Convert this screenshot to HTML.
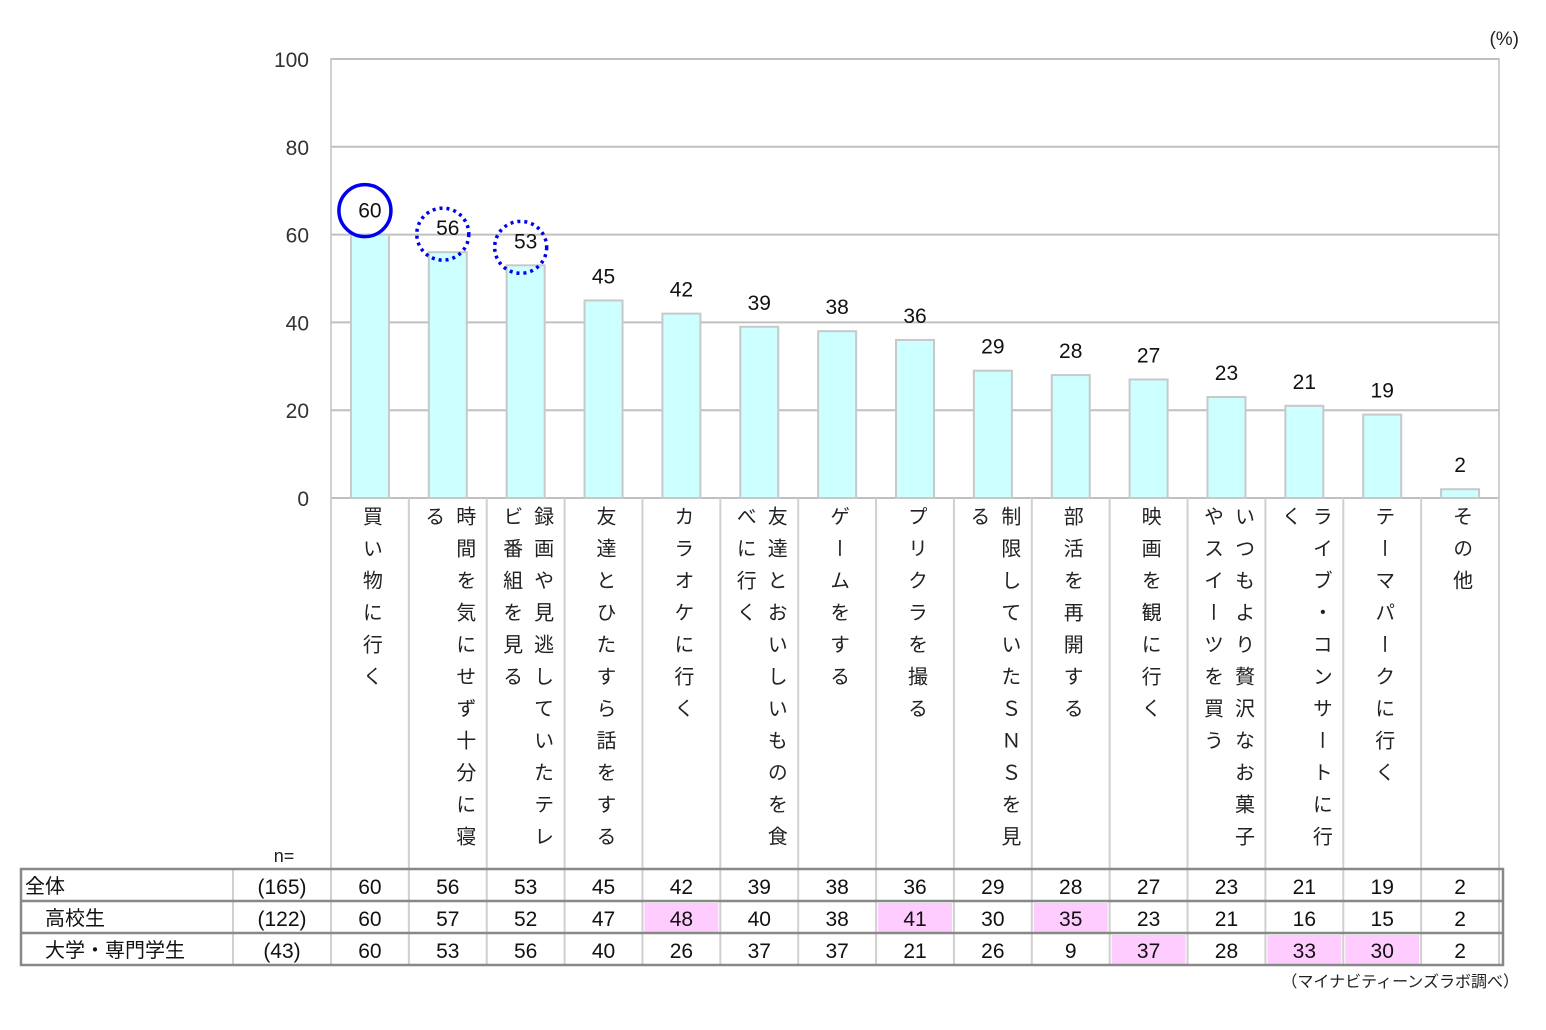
<!DOCTYPE html>
<html><head><meta charset="utf-8">
<style>
body{margin:0;background:#fff;}
#wrap{position:relative;width:1546px;height:1030px;font-family:"Liberation Sans","Noto Sans CJK JP",sans-serif;}
.lab{position:absolute;top:506px;width:78px;height:362px;display:flex;justify-content:center;}
.lab div{writing-mode:vertical-rl;font-size:20px;letter-spacing:12px;line-height:31px;height:356px;color:#222;}
</style></head><body>
<div id="wrap">
<svg id="svg" width="1546" height="1030" style="position:absolute;left:0;top:0"></svg>
</div>
<script>
const categories=["買い物に行く","時間を気にせず十分に寝る","録画や見逃していたテレビ番組を見る","友達とひたすら話をする","カラオケに行く","友達とおいしいものを食べに行く","ゲームをする","プリクラを撮る","制限していたＳＮＳを見る","部活を再開する","映画を観に行く","いつもより贅沢なお菓子やスイーツを買う","ライブ・コンサートに行く","テーマパークに行く","その他"];
const totalVals=[60,56,53,45,42,39,38,36,29,28,27,23,21,19,2];
const highVals=[60,57,52,47,48,40,38,41,30,35,23,21,16,15,2];
const univVals=[60,53,56,40,26,37,37,21,26,9,37,28,33,30,2];
const highHL=[false,false,false,false,true,false,false,true,false,true,false,false,false,false,false];
const univHL=[false,false,false,false,false,false,false,false,false,false,true,false,true,true,false];
const rowNames=["全体","高校生","大学・専門学生"];
const rowN=["(165)","(122)","(43)"];
const yTicks=[0,20,40,60,80,100];

const NS="http://www.w3.org/2000/svg";
const svg=document.getElementById('svg');
const wrap=document.getElementById('wrap');
const X0=331,X1=1499,Y0=498,Y100=59;
const cw=(X1-X0)/categories.length;
const y=v=>Y0-(Y0-Y100)*v/100;
const cx=i=>X0+cw*(i+0.5);
function mk(t,a,txt){const e=document.createElementNS(NS,t);for(const k in a)e.setAttribute(k,a[k]);if(txt!==undefined)e.textContent=txt;svg.appendChild(e);return e;}
let e=mk('rect',{x:X0,y:Y100,width:X1-X0,height:Y0-Y100,fill:'none',stroke:'#d0d0d0','stroke-width':2});

yTicks.forEach(t=>{
 let g=mk('line',{x1:X0,x2:X1,y1:y(t),y2:y(t),stroke:'#c0c0c0','stroke-width':2});
 
 let l=mk('text',{x:309,y:y(t)+8,'text-anchor':'end','font-size':21,fill:'#333'},t);
 
});
let pc=mk('text',{x:1519,y:45,'text-anchor':'end','font-size':19,fill:'#222'},'(%)');

for(let i=0;i<=categories.length;i++){
 let s=mk('line',{x1:X0+cw*i,x2:X0+cw*i,y1:Y0,y2:966,stroke:'#d0d0d0','stroke-width':2});
 
}
totalVals.forEach((v,i)=>{
 let b=mk('rect',{x:cx(i)-19,y:y(v),width:38,height:Y0-y(v),fill:'#ccffff',stroke:'#c8c8c8','stroke-width':2});
 
 let t=mk('text',{x:cx(i),y:y(v)-17,'text-anchor':'middle','font-size':21,fill:'#111'},v);
 
});
let c1=mk('circle',{cx:cx(0)-5,cy:y(totalVals[0])-24,r:26,fill:'none',stroke:'#0000ee','stroke-width':3.5});

[1,2].forEach(i=>{
 let c=mk('circle',{cx:cx(i)-5,cy:y(totalVals[i])-18,r:26,fill:'none',stroke:'#0000ee','stroke-width':3.5,'stroke-dasharray':'3 4'});
 
});
categories.forEach((c,i)=>{
 const d=document.createElement('div');d.className='lab';d.style.left=(cx(i)-39)+'px';
 
 const inner=document.createElement('div');inner.textContent=c;d.appendChild(inner);wrap.appendChild(d);
});
let nn=mk('text',{x:284,y:862,'text-anchor':'middle','font-size':18,fill:'#222'},'n=');

const TY=869,RH=32,TL=21,TR=1503;
const rows=[totalVals,highVals,univVals],hls=[null,highHL,univHL];
let tb=mk('rect',{x:TL,y:TY,width:TR-TL,height:RH*3,fill:'#fff',stroke:'none'});

rows.forEach((r,ri)=>{
 const ty=TY+RH*ri;
 r.forEach((v,i)=>{
  if(hls[ri]&&hls[ri][i]){let h=mk('rect',{x:X0+cw*i+2,y:ty+2,width:cw-4,height:RH-3,fill:'#ffccff'});
   }
  let t=mk('text',{x:cx(i),y:ty+25,'text-anchor':'middle','font-size':21,fill:'#111'},v);
  
 });
 let nm=mk('text',{x:ri==0?25:45,y:ty+24,'font-size':20,fill:'#111'},rowNames[ri]);
 
 let nv=mk('text',{x:282,y:ty+25,'text-anchor':'middle','font-size':21,fill:'#111'},rowN[ri]);
 
});
for(let i=0;i<=categories.length;i++){let s=mk('line',{x1:X0+cw*i,x2:X0+cw*i,y1:TY,y2:TY+RH*3,stroke:'#d0d0d0','stroke-width':2});
 }
let s2=mk('line',{x1:233,x2:233,y1:TY,y2:TY+RH*3,stroke:'#d0d0d0','stroke-width':2});

for(let k=1;k<3;k++){let h=mk('line',{x1:TL,x2:TR,y1:TY+RH*k,y2:TY+RH*k,stroke:'#888','stroke-width':2.5});
 }
let fr=mk('rect',{x:TL,y:TY,width:TR-TL,height:RH*3,fill:'none',stroke:'#888','stroke-width':2.5});

let src=mk('text',{x:1519,y:987,'text-anchor':'end','font-size':16,fill:'#222'},'（マイナビティーンズラボ調べ）');

</script>
</body></html>
